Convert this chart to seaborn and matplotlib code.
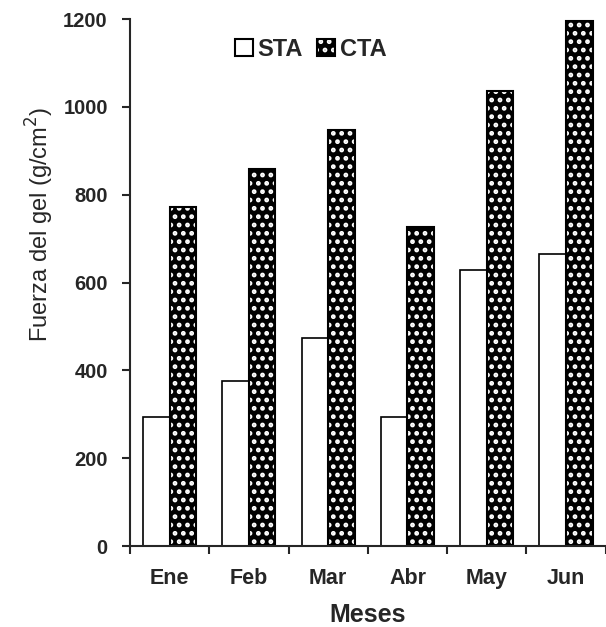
import matplotlib
matplotlib.use("Agg")
import matplotlib.pyplot as plt
import matplotlib.patches as mpatches
import numpy as np
import pandas as pd
import seaborn as sns

meses = ['Ene', 'Feb', 'Mar', 'Abr', 'May', 'Jun']
sta = [295, 376, 474, 295, 628, 665]
cta = [772, 859, 948, 727, 1036, 1195]

df = pd.DataFrame({
    'Mes': meses * 2,
    'Fuerza': sta + cta,
    'Tipo': ['STA'] * len(meses) + ['CTA'] * len(meses),
})

sns.set_style('ticks')
plt.rcParams['font.family'] = ['Liberation Sans', 'DejaVu Sans']
plt.rcParams['hatch.linewidth'] = 2.2

fig = plt.figure(figsize=(6.06, 6.27), dpi=100)
ax = fig.add_axes([0.2145, 0.129, 0.785, 0.8405])

sns.barplot(data=df, x='Mes', y='Fuerza', hue='Tipo', order=meses,
            hue_order=['STA', 'CTA'], palette={'STA': 'white', 'CTA': 'black'},
            width=0.67, edgecolor='black', linewidth=1.2, ax=ax, legend=False)

# dotted fill for CTA: white hatch on black, then a black outline on top
for p in ax.patches[len(meses):]:
    p.set_edgecolor('white')
    p.set_hatch('..')
    p.set_linewidth(0)
    ax.add_patch(mpatches.Rectangle(p.get_xy(), p.get_width(), p.get_height(),
                                    fill=False, edgecolor='black', linewidth=1.5))

ax.set_ylim(0, 1200)
ax.set_xlim(-0.5, len(meses) - 0.5)
ax.set_yticks(range(0, 1201, 200))
ax.set_xticks(np.arange(-0.5, len(meses)), minor=True)
ax.tick_params(axis='x', which='major', length=0, pad=16)
ax.tick_params(axis='x', which='minor', length=6, width=1.5, direction='out')
ax.tick_params(axis='y', length=6, width=1.5, direction='out', pad=10)
for lab in ax.get_xticklabels():
    lab.set_fontsize(15.5)
    lab.set_fontweight('bold')
for lab in ax.get_yticklabels():
    lab.set_fontsize(14.5)
    lab.set_fontweight('bold')

sns.despine(ax=ax)
ax.spines['left'].set_linewidth(1.5)
ax.spines['bottom'].set_linewidth(1.5)

ax.set_xlabel('Meses', fontsize=18, fontweight='bold', labelpad=10)
ax.set_ylabel('Fuerza del gel (g/cm$^2$)', fontsize=17)
ax.yaxis.set_label_coords(-0.155, 0.61)

h_sta = mpatches.Patch(facecolor='white', edgecolor='black', linewidth=1.5)
h_cta_fill = mpatches.Patch(facecolor='black', edgecolor='white', hatch='..', linewidth=0)
h_cta_edge = mpatches.Patch(fill=False, edgecolor='black', linewidth=1.5)
leg = ax.legend(handles=[h_sta, (h_cta_fill, h_cta_edge)], labels=['STA', 'CTA'],
                ncol=2, frameon=False, loc='upper center',
                bbox_to_anchor=(0.38, 1.005), handlelength=0.75, handleheight=0.75,
                handletextpad=0.2, columnspacing=0.6,
                prop={'weight': 'bold', 'size': 17})

fig.savefig('out.png', dpi=100)
